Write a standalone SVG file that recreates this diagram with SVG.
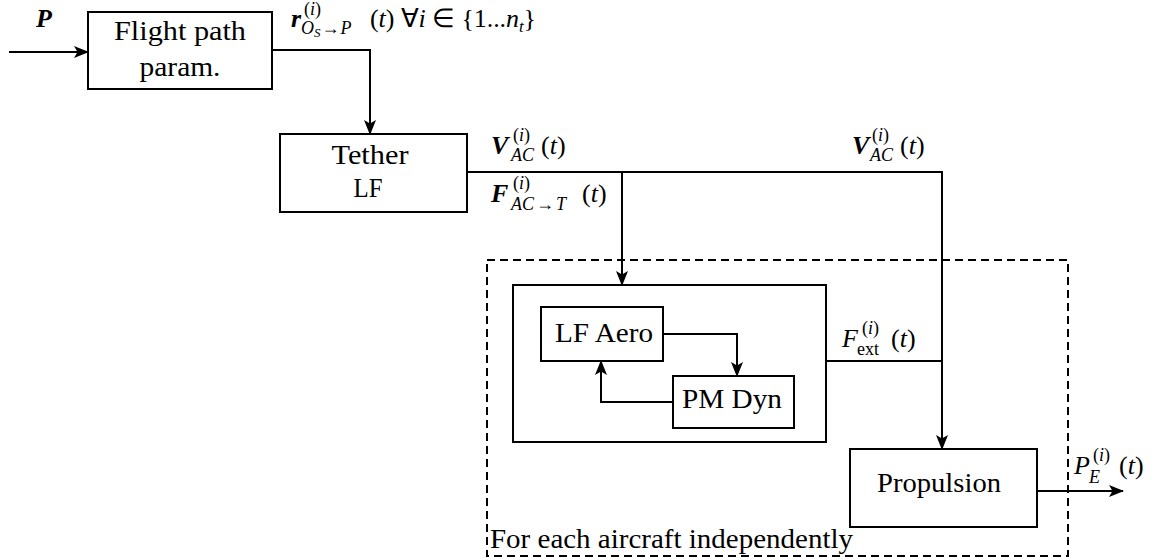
<svg xmlns="http://www.w3.org/2000/svg" width="1160" height="560" viewBox="0 0 1160 560">
<defs>
<marker id="arr" markerUnits="userSpaceOnUse" markerWidth="16" markerHeight="12" refX="14" refY="6" orient="auto">
<path d="M0,0 L15,6 L0,12 L3.5,6 z" fill="#000"/>
</marker>
<style>
.box{fill:#fff;stroke:#000;stroke-width:2}
.ln{fill:none;stroke:#000;stroke-width:2}
.t{font-family:"Liberation Serif","Times New Roman",serif;font-size:27px;fill:#000}
.m{font-family:"Liberation Serif","Times New Roman",serif;font-size:26px;font-style:italic;fill:#000}
.mr{font-family:"Liberation Serif","Times New Roman",serif;font-size:26px;font-weight:normal;fill:#000}
.b{font-weight:bold}
.s{font-family:"Liberation Serif","Times New Roman",serif;font-size:18px;font-style:italic;font-weight:normal;fill:#000}
.sr{font-family:"Liberation Serif","Times New Roman",serif;font-size:18px;font-weight:normal;fill:#000}
</style>
</defs>
<rect x="0" y="0" width="1160" height="560" fill="#fff"/>

<g id="group-box">
<rect x="487" y="260" width="581" height="296" fill="none" stroke="#000" stroke-width="2" stroke-dasharray="8,5"/>
<text class="t" x="490" y="548" textLength="363" lengthAdjust="spacingAndGlyphs">For each aircraft independently</text>
</g>

<g id="flight-path">
<rect class="box" x="88" y="12" width="184" height="77"/>
<text class="t" x="180" y="40" text-anchor="middle" textLength="132" lengthAdjust="spacingAndGlyphs">Flight path</text>
<text class="t" x="180" y="76" text-anchor="middle" textLength="81" lengthAdjust="spacingAndGlyphs">param.</text>
</g>

<g id="tether">
<rect class="box" x="280" y="134" width="187" height="78"/>
<text class="t" x="370" y="164" text-anchor="middle" textLength="77" lengthAdjust="spacingAndGlyphs">Tether</text>
<text class="t" x="368" y="197" text-anchor="middle" textLength="29" lengthAdjust="spacingAndGlyphs">LF</text>
</g>

<g id="aircraft-block">
<rect x="513" y="285" width="313" height="157" fill="none" stroke="#000" stroke-width="2"/>
</g>

<g id="lf-aero">
<rect class="box" x="541" y="307" width="122" height="54"/>
<text class="t" x="604" y="342" text-anchor="middle" textLength="98" lengthAdjust="spacingAndGlyphs">LF Aero</text>
</g>

<g id="pm-dyn">
<rect class="box" x="673" y="376" width="121" height="52"/>
<text class="t" x="732" y="408" text-anchor="middle" textLength="100" lengthAdjust="spacingAndGlyphs">PM Dyn</text>
</g>

<g id="propulsion">
<rect class="box" x="850" y="449" width="187" height="78"/>
<text class="t" x="939" y="492" text-anchor="middle" textLength="124" lengthAdjust="spacingAndGlyphs">Propulsion</text>
</g>

<g id="connectors">
<path class="ln" d="M9,52 L88,52" marker-end="url(#arr)"/>
<path class="ln" d="M272,50 L370,50 L370,134" marker-end="url(#arr)"/>
<path class="ln" d="M467,172 L942,172 L942,449" marker-end="url(#arr)"/>
<path class="ln" d="M622,172 L622,285" marker-end="url(#arr)"/>
<path class="ln" d="M826,361 L942,361"/>
<path class="ln" d="M663,334 L737,334 L737,376" marker-end="url(#arr)"/>
<path class="ln" d="M673,402 L601,402 L601,361" marker-end="url(#arr)"/>
<path class="ln" d="M1037,491 L1123,491" marker-end="url(#arr)"/>
</g>

<g id="labels">
<text class="m b" x="36" y="27">P</text>
<text class="m b" x="291" y="27">r</text>
<text class="sr" x="304" y="15">(<tspan font-style="italic">i</tspan>)</text>
<text class="s" x="301" y="34" font-size="20">O<tspan font-size="13" dy="3">S</tspan><tspan class="sr" font-size="20" font-style="normal" dy="-3" dx="1">→</tspan><tspan dx="1">P</tspan></text>
<text class="mr" x="370" y="27" textLength="166" lengthAdjust="spacing">(<tspan font-style="italic">t</tspan>) ∀<tspan font-style="italic">i</tspan> ∈ {1...<tspan font-style="italic">n</tspan><tspan font-size="17" font-style="italic" dy="5">t</tspan><tspan dy="-5">}</tspan></text>

<text class="m b" x="491" y="154">V</text>
<text class="sr" x="513" y="141">(<tspan font-style="italic">i</tspan>)</text>
<text class="s" x="511" y="161">AC</text>
<text class="mr" x="541" y="154">(<tspan font-style="italic">t</tspan>)</text>

<text class="m b" x="491" y="202">F</text>
<text class="sr" x="513" y="189">(<tspan font-style="italic">i</tspan>)</text>
<text class="s" x="511" y="210">AC<tspan class="sr" dx="2">→</tspan><tspan dx="2">T</tspan></text>
<text class="mr" x="582" y="202">(<tspan font-style="italic">t</tspan>)</text>

<text class="m b" x="852" y="154">V</text>
<text class="sr" x="872" y="141">(<tspan font-style="italic">i</tspan>)</text>
<text class="s" x="870" y="161">AC</text>
<text class="mr" x="900" y="154">(<tspan font-style="italic">t</tspan>)</text>

<text class="m" x="842" y="347">F</text>
<text class="sr" x="862" y="334">(<tspan font-style="italic">i</tspan>)</text>
<text class="sr" x="857" y="355">ext</text>
<text class="mr" x="891" y="347">(<tspan font-style="italic">t</tspan>)</text>

<text class="m" x="1074" y="474">P</text>
<text class="sr" x="1093" y="461">(<tspan font-style="italic">i</tspan>)</text>
<text class="s" x="1089" y="483">E</text>
<text class="mr" x="1119" y="474">(<tspan font-style="italic">t</tspan>)</text>
</g>
</svg>
